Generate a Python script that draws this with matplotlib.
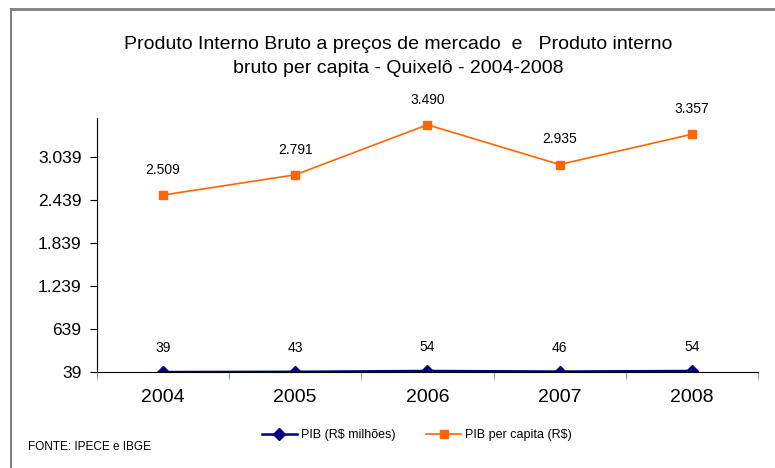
import matplotlib
matplotlib.use('Agg')
import matplotlib.pyplot as plt
from matplotlib.lines import Line2D
import numpy as np

plt.rcParams['font.family'] = ['Liberation Sans', 'DejaVu Sans']

years = ['2004', '2005', '2006', '2007', '2008']
pib = [39, 43, 54, 46, 54]
pib_per_capita = [2509, 2791, 3490, 2935, 3357]
y_ticks = [39, 639, 1239, 1839, 2439, 3039]

blue = '#000080'
orange = '#FF6600'

fig = plt.figure(figsize=(7.75, 4.68), dpi=100)
ax = fig.add_axes([0.125, 0.205, 0.853, 0.543])

x = np.arange(len(years))
ax.plot(x, pib, color=blue, lw=1.8, marker='D', ms=6, label='PIB (R$ milhões)')
ax.plot(x, pib_per_capita, color=orange, lw=1.2, marker='s', ms=6,
        label='PIB per capita (R$)')

# value labels over each point
for xi, v in zip(x, pib):
    ax.annotate(f'{v}', (xi, v), xytext=(0, 12), textcoords='offset points',
                ha='center', va='bottom', fontsize=10)
for xi, v in zip(x, pib_per_capita):
    ax.annotate(f'{v:,}'.replace(',', '.'), (xi, v), xytext=(0, 13),
                textcoords='offset points', ha='center', va='bottom', fontsize=10)

ax.set_xlim(-0.5, len(years) - 0.5)
ax.set_ylim(39, 3585)
ax.set_yticks(y_ticks)
ax.set_yticklabels([f'{t:,}'.replace(',', '.') for t in y_ticks], fontsize=12.5)
ax.set_xticks(x)
ax.set_xticklabels(years, fontsize=14)
ax.tick_params(axis='x', length=0, pad=12)
ax.set_xticks(np.arange(-0.5, len(years)), minor=True)
ax.tick_params(axis='x', which='minor', length=5, color='#808080')
ax.tick_params(axis='y', length=5, width=0.8, pad=6)

for s in ['top', 'right']:
    ax.spines[s].set_visible(False)
ax.spines['left'].set_color('black')
ax.spines['bottom'].set_color('black')

fig.text(0.514, 0.904, 'Produto Interno Bruto a preços de mercado  e   Produto interno',
         ha='center', va='center', fontsize=14)
fig.text(0.514, 0.853, 'bruto per capita - Quixelô - 2004-2008',
         ha='center', va='center', fontsize=14)

fig.legend(loc='center', bbox_to_anchor=(0.538, 0.07), ncol=2, frameon=False,
           fontsize=9, handlelength=2.8, columnspacing=2.5, handletextpad=0.3)

fig.text(0.036, 0.045, 'FONTE: IPECE e IBGE', ha='left', va='center', fontsize=8.5)

# outer border of the chart area
fig.add_artist(Line2D([0.014, 1.0], [0.981, 0.981], color='#808080', lw=2,
                      transform=fig.transFigure))
fig.add_artist(Line2D([0.014, 0.014], [0.0, 0.981], color='#808080', lw=1.5,
                      transform=fig.transFigure))

fig.savefig('out.png', dpi=100)
